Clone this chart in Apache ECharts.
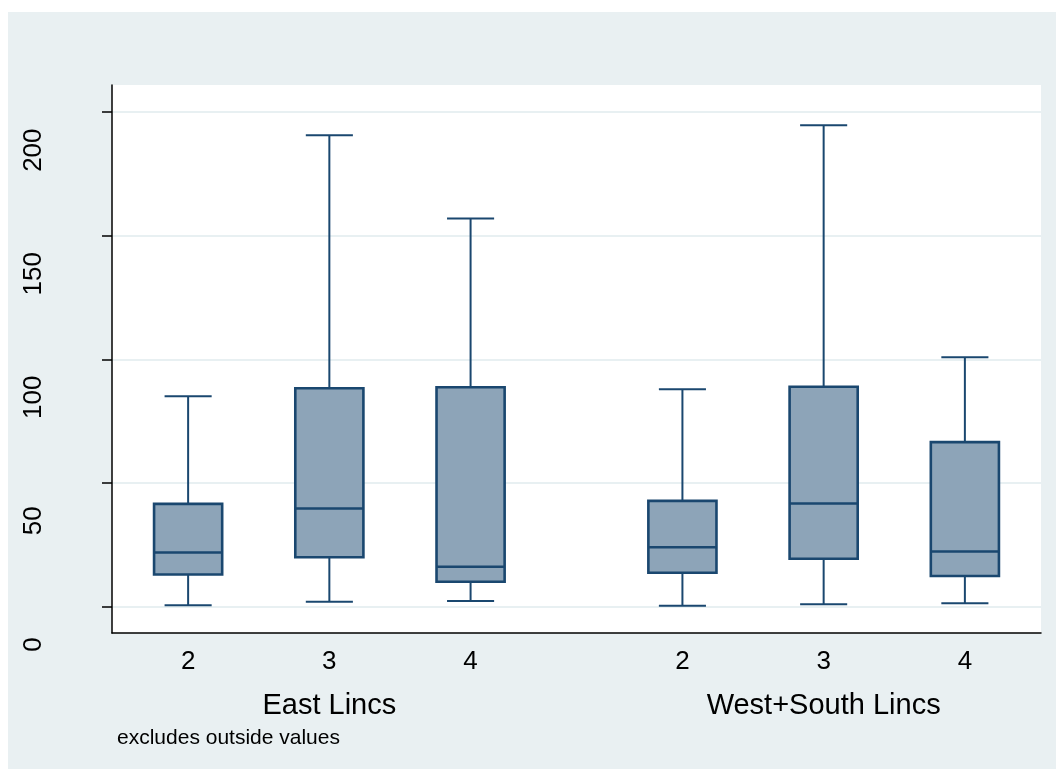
<!DOCTYPE html>
<html>
<head>
<meta charset="utf-8">
<script src="https://cdn.jsdelivr.net/npm/echarts@6/dist/echarts.min.js"></script>
<style>
  html, body { margin: 0; padding: 0; background: #ffffff; width: 1056px; height: 769px; overflow: hidden; }
  #chart { position: absolute; left: 8px; top: 12px; width: 1048px; height: 757px; }
</style>
</head>
<body>
<div id="chart"></div>
<script>
// ---- data ----
const groups = ['East Lincs', 'West+South Lincs'];
const categories = ['2', '3', '4'];
// one entry per box: East 2,3,4 then West+South 2,3,4
const lowWhisker  = [0.5, 1.9, 2.2, 0.3, 0.9, 1.3];
const q1          = [12.9, 19.9, 10.0, 13.6, 19.3, 12.3];
const median      = [21.8, 39.6, 16.1, 23.9, 41.6, 22.2];
const q3          = [41.5, 88.3, 88.7, 42.7, 88.9, 66.5];
const highWhisker = [85.0, 190.7, 157.0, 87.9, 194.7, 100.8];
const yTicks = [0, 50, 100, 150, 200];
const noteText = 'excludes outside values';

// ---- layout of boxes along x (group gap of 1.5 slots) ----
const GROUP_STEP = categories.length + 0.5;
const positions = [];
const boxLabels = [];
groups.forEach((g, gi) => {
  categories.forEach((c, ci) => {
    positions.push(1 + gi * GROUP_STEP + ci);
    boxLabels.push(c);
  });
});
const groupCenters = groups.map((g, gi) => 1 + gi * GROUP_STEP + (categories.length - 1) / 2);

const data = positions.map((p, i) => [p, lowWhisker[i], q1[i], median[i], q3[i], highWhisker[i]]);

const STROKE = '#1a476f';
const FILL = '#8da4b8';
const BOX_FRAC = 68 / 141;
const CAP_FRAC = 47 / 141;

function renderItem(params, api) {
  const x = api.value(0);
  const pLo = api.coord([x, api.value(1)]);
  const pQ1 = api.coord([x, api.value(2)]);
  const pMed = api.coord([x, api.value(3)]);
  const pQ3 = api.coord([x, api.value(4)]);
  const pHi = api.coord([x, api.value(5)]);
  const unit = api.size([1, 0])[0];
  const bw = unit * BOX_FRAC, cw = unit * CAP_FRAC;
  const cx = pQ1[0];
  const lineStyle = { stroke: STROKE, lineWidth: 2, fill: null };
  return {
    type: 'group',
    children: [
      { type: 'line', shape: { x1: cx, y1: pQ3[1], x2: cx, y2: pHi[1] }, style: lineStyle },
      { type: 'line', shape: { x1: cx, y1: pLo[1], x2: cx, y2: pQ1[1] }, style: lineStyle },
      { type: 'line', shape: { x1: cx - cw / 2, y1: pHi[1], x2: cx + cw / 2, y2: pHi[1] }, style: lineStyle },
      { type: 'line', shape: { x1: cx - cw / 2, y1: pLo[1], x2: cx + cw / 2, y2: pLo[1] }, style: lineStyle },
      { type: 'rect', shape: { x: cx - bw / 2, y: pQ3[1], width: bw, height: pQ1[1] - pQ3[1] },
        style: { fill: FILL, stroke: STROKE, lineWidth: 2.6 } },
      { type: 'line', shape: { x1: cx - bw / 2, y1: pMed[1], x2: cx + bw / 2, y2: pMed[1] },
        style: { stroke: STROKE, lineWidth: 2.5 } }
    ]
  };
}

const FONT = "'Liberation Sans', Arial, sans-serif";
const xMin = positions[0] - 76 / 141;
const xMax = positions[positions.length - 1] + 76 / 141;

const chart = echarts.init(document.getElementById('chart'), null, { renderer: 'canvas' });
chart.setOption({
  backgroundColor: '#e9f0f2',
  animation: false,
  textStyle: { fontFamily: FONT },
  title: {
    text: noteText,
    left: 109, top: 716, padding: 0,
    textStyle: { fontFamily: FONT, fontSize: 21, fontWeight: 'normal', color: '#000' }
  },
  grid: {
    left: 104, top: 73, right: 15, bottom: 136,
    containLabel: false, outerBoundsMode: 'none',
    show: true, backgroundColor: '#ffffff', borderWidth: 0
  },
  xAxis: [
    {
      type: 'value', min: xMin, max: xMax,
      axisLine: { show: true, onZero: false, lineStyle: { color: '#000', width: 1.5 } },
      axisTick: { show: false },
      splitLine: { show: false },
      axisLabel: {
        customValues: positions,
        formatter: (v) => boxLabels[positions.findIndex(p => Math.abs(p - v) < 1e-6)] || '',
        fontFamily: FONT, fontSize: 26, color: '#000', margin: 16
      }
    },
    {
      type: 'value', min: xMin, max: xMax, position: 'bottom',
      axisLine: { show: false }, axisTick: { show: false }, splitLine: { show: false },
      axisLabel: {
        customValues: groupCenters,
        formatter: (v) => groups[groupCenters.findIndex(p => Math.abs(p - v) < 1e-6)] || '',
        fontFamily: FONT, fontSize: 29, color: '#000', margin: 58
      }
    }
  ],
  yAxis: {
    type: 'value', min: -10.76, max: 211,
    axisLine: { show: true, onZero: false, lineStyle: { color: '#000', width: 1.5 } },
    axisTick: { show: true, customValues: yTicks, length: 10, lineStyle: { color: '#000', width: 1.5 } },
    splitLine: { show: true, lineStyle: { color: '#e8f0f2', width: 2 } },
    axisLabel: {
      customValues: yTicks,
      rotate: 90, fontFamily: FONT, fontSize: 26, color: '#000',
      margin: 65, padding: [0, 76, 0, 0]
    }
  },
  series: [{
    type: 'custom',
    renderItem: renderItem,
    encode: { x: 0, y: [1, 2, 3, 4, 5] },
    data: data,
    clip: false
  }]
});
</script>
</body>
</html>
